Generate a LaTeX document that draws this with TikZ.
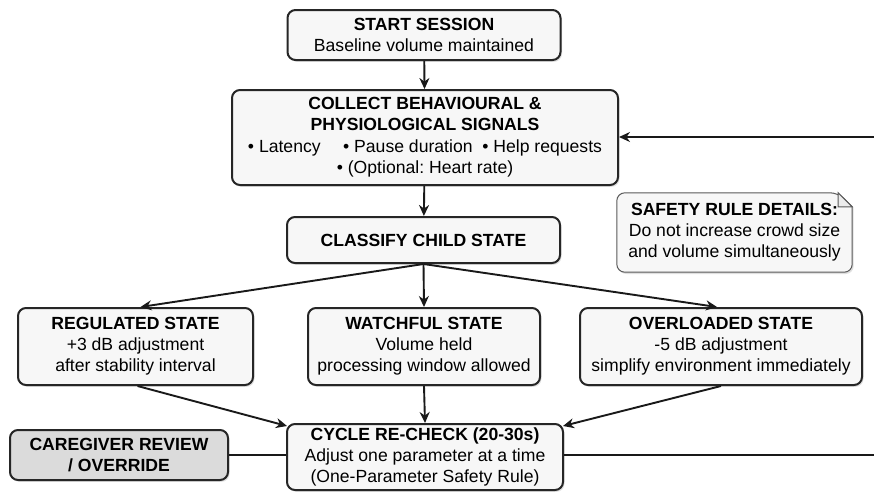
\documentclass[tikz,border=0pt]{standalone}
\usepackage{fontspec}
\setmainfont{Liberation Sans}
\usetikzlibrary{arrows.meta,shadows}
\frenchspacing
\begin{document}
\begin{tikzpicture}[x=1pt,y=-1pt,
  txt/.style={font=\fontsize{17.6}{21}\selectfont},
  box/.style={txt, draw=black!85, line width=2pt, rounded corners=8pt, fill=gray!6,
    align=center, inner sep=0pt,
    drop shadow={opacity=0.25, shadow xshift=1.5pt, shadow yshift=-1.8pt}},
  greybox/.style={box, fill=gray!28},
  conn/.style={line width=1.9pt, draw=black!90},
  arr/.style={conn, -{Stealth[length=11pt,width=10pt]}}]
\useasboundingbox (0,0) rectangle (874,496);

\node[box, minimum width=273pt, minimum height=50pt] (start) at (424,35)
  {\textbf{START SESSION}\\Baseline volume maintained};
\node[box, minimum width=386pt, minimum height=95pt] (collect) at (425,137.5)
  {\textbf{COLLECT BEHAVIOURAL \&}\\\textbf{PHYSIOLOGICAL SIGNALS}\\[1pt]
   • Latency\quad\ • Pause duration\ \ • Help requests\\• (Optional: Heart rate)};
\node[box, minimum width=273pt, minimum height=46pt] (classify) at (423.5,240)
  {\textbf{CLASSIFY CHILD STATE}};
\node[txt, inner sep=0pt, minimum width=235pt, minimum height=79pt, align=center] (safety) at (734.5,232.5) {};
\node[box, minimum width=235pt, minimum height=77pt] (reg) at (135.5,346.5)
  {\textbf{REGULATED STATE}\\+3 dB adjustment\\after stability interval};
\node[box, minimum width=232pt, minimum height=77pt] (watch) at (424,346.5)
  {\textbf{WATCHFUL STATE}\\Volume held\\processing window allowed};
\node[box, minimum width=282pt, minimum height=77pt] (over) at (721,346.5)
  {\textbf{OVERLOADED STATE}\\-5 dB adjustment\\simplify environment immediately};
\node[box, minimum width=276pt, minimum height=66pt] (cycle) at (425,457)
  {\textbf{CYCLE RE-CHECK (20-30s)}\\Adjust one parameter at a time\\(One-Parameter Safety Rule)};
\node[greybox, minimum width=218pt, minimum height=50pt] (care) at (119,455)
  {\textbf{CAREGIVER REVIEW}\\\textbf{/ OVERRIDE}};

% safety note outline with folded corner
\draw[draw=gray!70!black, line width=1pt, fill=gray!6,
  drop shadow={opacity=0.25, shadow xshift=1.5pt, shadow yshift=-1.8pt},
  rounded corners=8pt]
  (safety.north west) -- ([xshift=-14pt]safety.north east) [sharp corners]
  -- ([yshift=-14pt]safety.north east) [rounded corners=8pt]
  -- (safety.south east) -- (safety.south west) -- cycle;
\draw[draw=gray!70!black, line width=1pt, fill=gray!15]
  ([xshift=-14pt]safety.north east) -- ([xshift=-14pt,yshift=-14pt]safety.north east)
  -- ([yshift=-14pt]safety.north east) -- cycle;
\node[txt, inner sep=0pt, align=center] (safetytext) at (safety.center)
  {\textbf{SAFETY RULE DETAILS:}\\Do not increase crowd size\\and volume simultaneously};

\coordinate (fbin) at (874,137);
\coordinate (fbout) at (874,455);

\draw[arr] (start) -- (collect);
\draw[arr] (fbin) -- (collect.east |- fbin);
\draw[arr] (collect) -- (classify);
\draw[arr] (classify.south) -- ([xshift=5pt]reg.north);
\draw[arr] (classify.south) -- (watch.north);
\draw[arr] (classify.south) -- ([xshift=-4pt]over.north);
\draw[arr] ([xshift=2pt]reg.south) -- ([xshift=1pt,yshift=-3pt]cycle.north west);
\draw[arr] (watch.south) -- (cycle.north);
\draw[arr] (over.south) -- ([xshift=-1pt,yshift=-3pt]cycle.north east);
\draw[conn] (care.east) -- (cycle.west |- care.east);
\draw[conn] (cycle.east |- fbout) -- (fbout);
\end{tikzpicture}
\end{document}
